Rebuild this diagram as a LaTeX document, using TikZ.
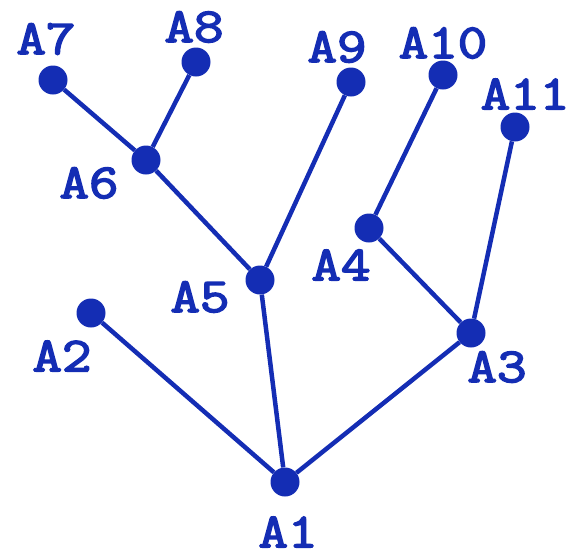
\documentclass[tikz,border=0pt]{standalone}
\usepackage{fontspec}
\newfontfamily\lbfont[FakeBold=3]{Latin Modern Mono}
\definecolor{treeblue}{RGB}{20,45,180}
\newcommand{\lb}[1]{\scalebox{1.17}[1]{#1}}
\begin{document}
\begin{tikzpicture}[x=1pt,y=-1pt,
  dot/.style={circle,fill=treeblue,inner sep=0pt,minimum size=29pt},
  lbl/.style={text=treeblue,font=\lbfont\fontsize{49}{49}\selectfont,inner sep=0pt},
  edge/.style={draw=treeblue,line width=4.5pt}]
\useasboundingbox (0,0) rectangle (582,555);
\node[dot] (a1) at (285,482) {};
\node[dot] (a2) at (91,313) {};
\node[dot] (a3) at (471,333) {};
\node[dot] (a4) at (369,228) {};
\node[dot] (a5) at (260,280) {};
\node[dot] (a6) at (146,160) {};
\node[dot] (a7) at (53,80) {};
\node[dot] (a8) at (196,62) {};
\node[dot] (a9) at (351,82) {};
\node[dot] (a10) at (443,75) {};
\node[dot] (a11) at (515,127) {};
\draw[edge] (a1) -- (a2);
\draw[edge] (a1) -- (a3);
\draw[edge] (a1) -- (a5);
\draw[edge] (a3) -- (a4);
\draw[edge] (a3) -- (a11);
\draw[edge] (a4) -- (a10);
\draw[edge] (a5) -- (a6);
\draw[edge] (a5) -- (a9);
\draw[edge] (a6) -- (a7);
\draw[edge] (a6) -- (a8);
\node[lbl] (l1) at (288,532) {\lb{A1}};
\node[lbl] (l2) at (62,356) {\lb{A2}};
\node[lbl] (l3) at (497,367) {\lb{A3}};
\node[lbl] (l4) at (341,265) {\lb{A4}};
\node[lbl] (l5) at (200,297) {\lb{A5}};
\node[lbl] (l6) at (89,183) {\lb{A6}};
\node[lbl] (l7) at (46,39) {\lb{A7}};
\node[lbl] (l8) at (194,27) {\lb{A8}};
\node[lbl] (l9) at (337,47) {\lb{A9}};
\node[lbl] (l10) at (443,43) {\lb{A10}};
\node[lbl] (l11) at (525,94) {\lb{A11}};
\end{tikzpicture}
\end{document}
